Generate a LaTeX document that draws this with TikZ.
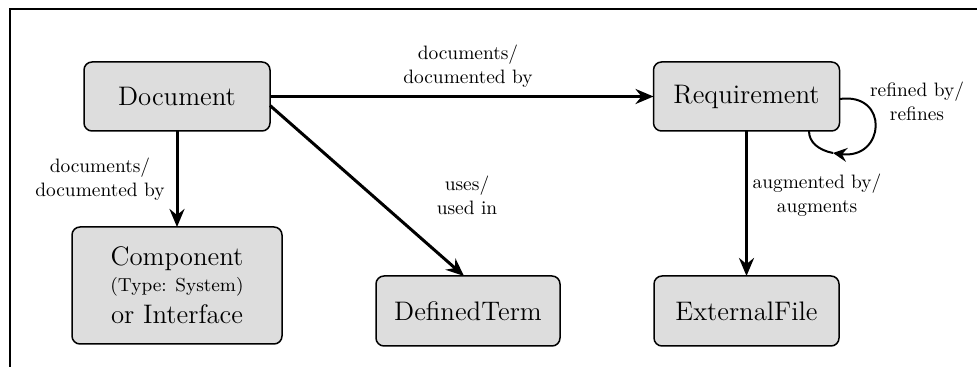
\documentclass[tikz,border=0pt]{standalone}
\usepackage{fontspec}
\usetikzlibrary{arrows.meta,calc}
\definecolor{boxgray}{RGB}{221,221,221}
\tikzset{
  entity/.style={draw=black, line width=0.75pt, fill=boxgray, rounded corners=4pt,
    outer sep=0pt, inner sep=2pt, align=center,
    font=\fontsize{13.4}{16}\selectfont},
  rel/.style={line width=1.5pt, -{Stealth[length=9pt,width=7.5pt,inset=3pt]}},
  loopline/.style={line width=1pt},
  lbl/.style={align=center, font=\fontsize{9.7}{12}\selectfont, inner sep=0pt},
  frameline/.style={line width=0.9pt}
}
\begin{document}
\begin{tikzpicture}[x=0.5pt,y=-0.5pt]
\useasboundingbox (0,0) rectangle (977,367);
% frame
\coordinate (f1) at (10,367);
\coordinate (f2) at (10,9);
\coordinate (f3) at (977,9);
\draw[frameline] (f1) -- (f2) -- (f3);
% nodes
\node[entity, minimum width=93pt, minimum height=34.5pt] (doc) at (177,96.5) {Document};
\node[entity, minimum width=93pt, minimum height=34.5pt] (req) at (746.5,96.5) {Requirement};
\node[entity, minimum width=105pt, minimum height=58.5pt] (comp) at (177,285.5)
  {Component\\[-3pt]{\fontsize{9.4}{12}\selectfont (Type: System)}\\or Interface};
\node[entity, minimum width=92pt, minimum height=35pt] (dt) at (468,311) {DefinedTerm};
\node[entity, minimum width=92.5pt, minimum height=35pt] (ef) at (746.5,311) {ExternalFile};
% connectors
\draw[rel] (doc.east) -- (req.west);
\draw[rel] (doc.south) -- (comp.north);
\draw[rel] ($(doc.east)+(0,9)$) -- ($(dt.north)+(-4,0)$);
\draw[rel] (req.south) -- (ef.north);
% self loop
\coordinate (lm) at (833,153);
\draw[loopline, -{Stealth[length=7pt,width=7pt,inset=2.5pt]}] ($(req.east)+(0,2.5)$) .. controls (890,92) and (885,160) .. (lm);
\draw[loopline] (lm) .. controls (818,150) and (809,142) .. ($(req.south)+(62.5,0)$);
% labels
\node[lbl] (l1) at (468,66) {documents/\\documented by};
\node[lbl] (l2) at (100,179) {documents/\\documented by};
\node[lbl] (l3) at (467,195) {uses/\\used in};
\node[lbl] (l4) at (917,101) {refined by/\\refines};
\node[lbl] (l5) at (817,195) {augmented by/\\augments};
\end{tikzpicture}
\end{document}
